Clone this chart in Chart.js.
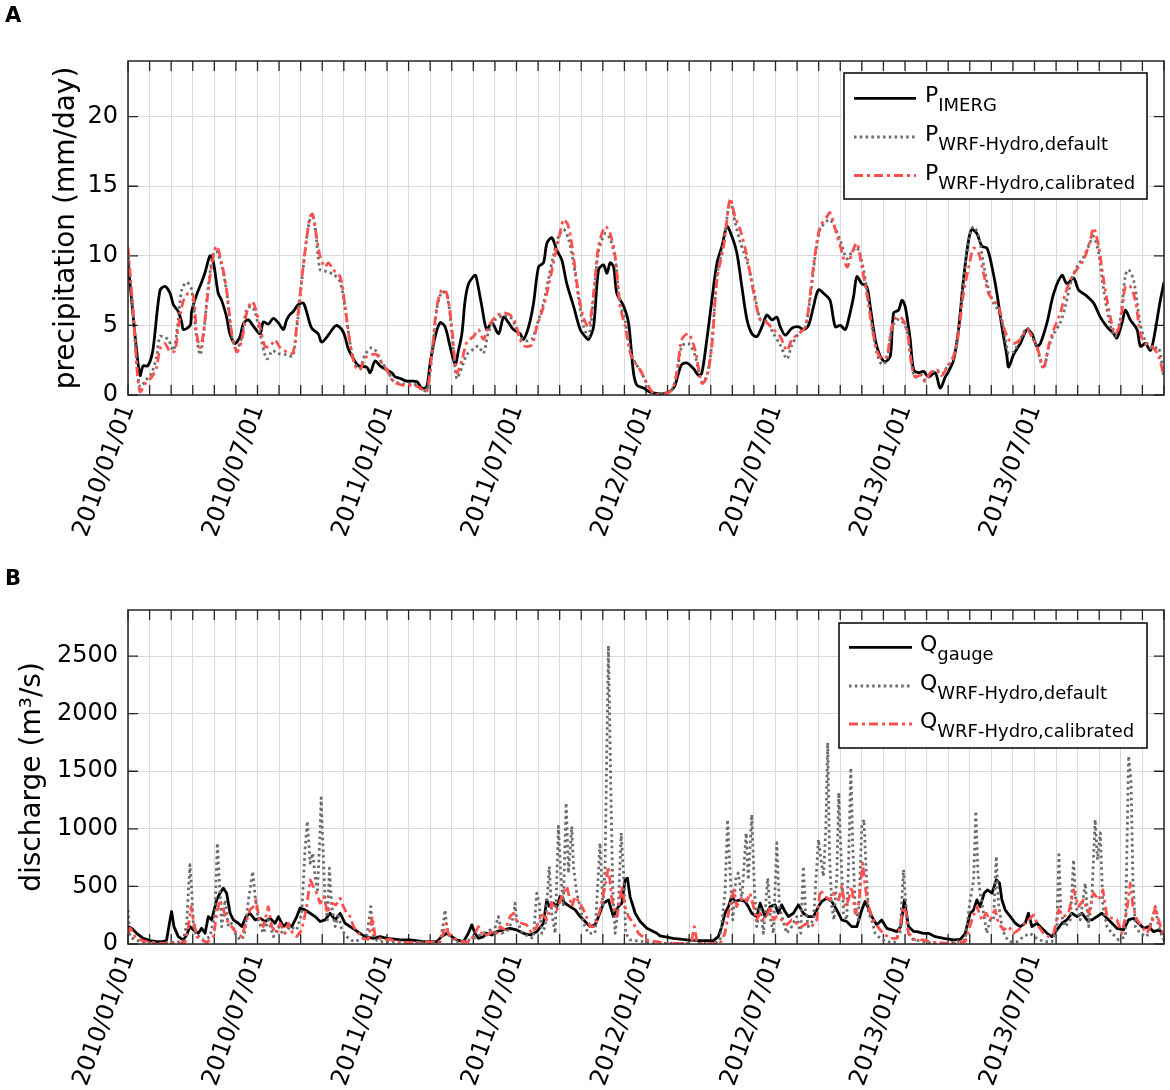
<!DOCTYPE html>
<html>
<head>
<meta charset="utf-8">
<script src="https://cdn.jsdelivr.net/npm/chart.js@4.4.1/dist/chart.umd.min.js"></script>
<style>
  html, body { margin: 0; padding: 0; background: #fff; }
  #page { position: relative; width: 1170px; height: 1090px; font-family: 'DejaVu Sans', sans-serif; }
  canvas { position: absolute; left: 0; }
  .tag { position: absolute; left: 5px; font-weight: bold; font-size: 21px; line-height: 1; z-index: 2; }
</style>
</head>
<body>
<div id="page">
  <canvas id="chartA" width="1170" height="550" style="top:0"></canvas>
  <canvas id="chartB" width="1170" height="540" style="top:550px"></canvas>
  <div class="tag" style="top:5px">A</div>
  <div class="tag" style="top:568px">B</div>
</div>
<script>
const FONT = "'DejaVu Sans', sans-serif";

// x axis is in months since 2010/01/01 (0..48)
const xLabelMonths = [0, 6, 12, 18, 24, 30, 36, 42];
const xLabels = ['2010/01/01', '2010/07/01', '2011/01/01', '2011/07/01', '2012/01/01', '2012/07/01', '2013/01/01', '2013/07/01'];
const yTicksA = [0, 5, 10, 15, 20];
const yTicksB = [0, 500, 1000, 1500, 2000, 2500];

// panel A: precipitation (mm/day), [month, value]
const pImerg = [[0,9.5],[0.17,6.8],[0.4,3.2],[0.56,1.4],[0.7,2.1],[0.92,2.1],[1.15,3.2],[1.48,7.5],[1.71,7.8],[1.95,7.3],[2.1,6.5],[2.33,6.0],[2.49,5.2],[2.57,4.7],[2.88,5.0],[2.95,6.0],[3.18,7.2],[3.41,8.1],[3.57,8.8],[3.8,10.0],[3.95,9.6],[4.18,7.3],[4.34,6.8],[4.57,5.6],[4.72,4.4],[4.96,3.7],[5.19,4.2],[5.34,5.1],[5.57,5.4],[5.88,4.8],[6.12,4.4],[6.27,5.25],[6.5,5.1],[6.73,5.5],[6.96,5.2],[7.2,4.7],[7.35,5.4],[7.51,5.8],[7.66,6.0],[7.89,6.5],[8.12,6.6],[8.27,6.0],[8.51,4.8],[8.81,4.4],[8.97,3.8],[9.28,4.3],[9.51,4.8],[9.67,5.0],[9.98,4.5],[10.21,3.3],[10.45,2.6],[10.68,2.1],[11.06,2.0],[11.22,1.6],[11.45,2.45],[11.68,2.1],[11.99,1.8],[12.22,1.6],[12.38,1.3],[12.6,1.2],[12.92,1.0],[13.38,0.96],[13.61,0.5],[13.84,0.6],[14.0,2.3],[14.23,4.2],[14.46,5.2],[14.69,4.9],[14.92,3.5],[15.16,2.2],[15.31,3.2],[15.47,4.4],[15.62,6.8],[15.78,8.0],[16.08,8.6],[16.16,8.3],[16.39,6.4],[16.62,4.7],[16.86,5.2],[17.17,4.4],[17.4,5.6],[17.63,5.2],[17.86,4.7],[18.17,4.4],[18.32,4.0],[18.56,4.9],[18.79,6.6],[19.02,9.2],[19.25,9.5],[19.41,10.9],[19.64,11.3],[19.87,10.4],[20.1,9.7],[20.33,8.0],[20.64,6.4],[20.95,4.7],[21.18,4.2],[21.34,4.0],[21.57,4.9],[21.8,9.0],[22.03,9.35],[22.19,8.75],[22.34,9.5],[22.5,9.2],[22.65,7.3],[22.96,6.4],[23.19,5.2],[23.42,1.6],[23.58,0.7],[23.89,0.5],[24.2,0.2],[24.81,0.1],[25.28,0.5],[25.51,1.6],[25.66,2.2],[25.9,2.3],[26.2,1.9],[26.44,1.4],[26.59,1.6],[26.82,4.0],[27.05,6.8],[27.29,9.5],[27.52,10.7],[27.75,12.1],[27.98,11.4],[28.21,10.2],[28.44,7.8],[28.68,5.4],[28.91,4.4],[29.14,4.2],[29.37,4.9],[29.6,5.75],[29.83,5.4],[30.06,5.6],[30.22,4.9],[30.45,4.3],[30.76,4.8],[31.07,4.9],[31.3,4.7],[31.53,5.0],[31.76,6.35],[31.99,7.55],[32.3,7.2],[32.53,6.8],[32.77,4.9],[33.0,5.0],[33.23,4.7],[33.38,5.4],[33.62,7.1],[33.77,8.5],[34.0,8.0],[34.23,7.8],[34.39,6.35],[34.62,4.0],[34.85,2.8],[35.08,2.4],[35.32,2.8],[35.47,5.9],[35.7,6.1],[35.86,6.8],[36.01,6.35],[36.24,4.0],[36.4,1.8],[36.63,1.6],[36.86,1.7],[37.09,1.3],[37.4,1.6],[37.63,0.5],[37.87,1.3],[38.02,1.7],[38.25,2.5],[38.48,4.7],[38.71,8.3],[38.95,11.15],[39.1,11.9],[39.33,11.6],[39.56,10.7],[39.8,10.55],[40.03,9.2],[40.26,7.3],[40.49,4.9],[40.72,2.8],[40.8,2.0],[41.03,2.9],[41.34,3.7],[41.65,4.7],[41.88,4.4],[42.11,3.5],[42.27,3.7],[42.58,5.2],[42.89,7.3],[43.27,8.6],[43.5,8.0],[43.81,8.4],[44.04,7.55],[44.35,7.2],[44.74,6.6],[45.05,5.6],[45.36,4.9],[45.67,4.4],[45.82,4.1],[46.06,5.2],[46.21,6.1],[46.44,5.4],[46.75,4.7],[46.91,3.5],[47.14,3.7],[47.37,3.2],[47.52,4.0],[47.83,6.8],[48.0,8.1]];

const pDefault = [[0,10.3],[0.26,5.5],[0.41,2.2],[0.56,0.6],[0.79,1.0],[1.1,1.6],[1.33,2.8],[1.48,4.2],[1.71,4.1],[1.87,4.0],[2.1,3.2],[2.3,5.0],[2.49,7.55],[2.72,8.1],[2.95,7.55],[3.15,4.5],[3.34,2.9],[3.49,4.2],[3.72,7.8],[3.95,10.2],[4.11,10.3],[4.34,9.3],[4.57,7.4],[4.81,4.2],[5.04,3.3],[5.27,4.2],[5.5,6.2],[5.73,6.35],[5.88,6.0],[6.12,4.4],[6.43,2.6],[6.7,3.2],[6.9,3.0],[7.35,2.9],[7.63,2.8],[7.81,4.7],[8.04,8.0],[8.27,11.2],[8.43,12.6],[8.55,12.8],[8.66,12.2],[8.9,9.0],[9.13,8.9],[9.28,8.8],[9.51,8.7],[9.83,8.1],[10.06,6.2],[10.29,3.7],[10.52,2.2],[10.75,1.9],[10.98,2.9],[11.29,3.4],[11.52,3.1],[11.76,2.3],[11.99,1.9],[12.3,1.0],[12.76,0.8],[13.23,0.8],[13.53,0.5],[13.84,0.3],[14.08,2.8],[14.31,6.2],[14.54,7.4],[14.77,7.2],[15.0,4.6],[15.23,1.2],[15.47,2.0],[15.7,2.9],[16.01,3.3],[16.24,3.5],[16.47,3.0],[16.7,4.5],[17.01,5.4],[17.4,5.7],[17.71,5.6],[17.94,5.0],[18.17,4.2],[18.4,3.9],[18.71,4.0],[18.94,5.0],[19.25,6.6],[19.48,8.3],[19.71,10.0],[19.95,11.4],[20.18,11.9],[20.41,11.2],[20.64,9.5],[20.87,7.0],[21.1,5.0],[21.34,4.2],[21.57,6.9],[21.8,10.3],[22.11,11.6],[22.34,11.2],[22.57,9.8],[22.8,6.6],[23.04,5.3],[23.27,3.2],[23.5,2.3],[23.73,1.8],[24.04,0.84],[24.35,0.12],[24.81,0.07],[25.2,0.4],[25.43,1.6],[25.66,3.5],[25.97,3.7],[26.28,2.8],[26.59,0.9],[26.82,1.4],[27.05,3.7],[27.29,8.6],[27.6,11.0],[27.9,13.9],[28.13,12.4],[28.36,11.0],[28.68,9.6],[28.99,7.6],[29.3,5.4],[29.6,5.3],[29.91,4.4],[30.22,3.6],[30.53,2.6],[30.76,3.6],[31.07,4.4],[31.38,4.9],[31.61,7.0],[31.84,10.0],[32.07,11.9],[32.38,12.5],[32.53,12.6],[32.77,12.0],[33.0,11.1],[33.31,9.8],[33.54,10.3],[33.77,10.6],[34.0,9.6],[34.23,7.6],[34.47,5.0],[34.7,3.0],[34.93,2.2],[35.16,2.5],[35.39,4.8],[35.62,5.4],[35.86,5.3],[36.09,4.6],[36.32,2.1],[36.47,1.3],[36.71,1.5],[36.94,1.1],[37.17,1.6],[37.48,1.7],[37.71,1.5],[37.94,2.0],[38.25,2.6],[38.48,4.7],[38.71,8.3],[38.95,11.2],[39.18,12.1],[39.41,11.4],[39.64,9.4],[39.87,7.6],[40.1,6.6],[40.34,6.0],[40.57,4.7],[40.8,3.0],[41.03,3.1],[41.34,4.0],[41.65,4.8],[41.88,4.2],[42.11,3.4],[42.42,1.9],[42.65,3.4],[42.89,4.4],[43.2,5.2],[43.43,6.4],[43.74,8.4],[44.04,9.4],[44.28,9.9],[44.59,11.0],[44.74,11.4],[44.97,10.2],[45.2,7.6],[45.51,5.0],[45.74,4.2],[45.98,5.5],[46.21,8.6],[46.36,9.0],[46.6,8.2],[46.91,5.0],[47.14,3.9],[47.44,3.3],[47.75,3.4],[47.98,1.4]];

const pCalibrated = [[0,10.6],[0.26,5.6],[0.41,2.0],[0.56,0.24],[0.79,0.8],[1.1,1.3],[1.33,2.0],[1.48,3.3],[1.71,3.7],[1.95,3.1],[2.18,3.2],[2.33,4.9],[2.57,6.8],[2.8,7.3],[3.03,7.1],[3.18,4.4],[3.34,3.4],[3.49,4.4],[3.72,7.55],[3.95,9.95],[4.11,10.7],[4.34,9.5],[4.57,7.55],[4.81,4.4],[5.04,3.1],[5.27,3.95],[5.5,5.9],[5.73,6.7],[5.88,6.35],[6.12,4.9],[6.35,3.5],[6.58,3.5],[6.81,3.95],[7.05,3.4],[7.35,3.1],[7.63,3.0],[7.81,4.9],[8.04,8.2],[8.27,11.15],[8.43,12.8],[8.55,13.0],[8.66,12.1],[8.9,9.95],[9.13,9.2],[9.28,9.5],[9.51,9.0],[9.83,8.5],[10.06,6.35],[10.29,3.7],[10.52,2.1],[10.75,1.8],[10.98,2.65],[11.29,2.9],[11.52,2.9],[11.76,2.3],[11.99,1.8],[12.3,0.96],[12.76,0.7],[13.23,0.7],[13.53,0.5],[13.84,0.24],[14.08,3.0],[14.31,6.35],[14.54,7.55],[14.77,7.3],[15.0,4.9],[15.23,1.6],[15.47,2.5],[15.7,3.8],[16.01,4.2],[16.24,4.7],[16.47,4.0],[16.7,4.9],[17.01,5.6],[17.4,5.9],[17.71,5.75],[17.94,5.2],[18.17,4.0],[18.4,3.5],[18.71,3.6],[18.94,4.9],[19.25,6.35],[19.48,7.8],[19.71,9.5],[19.95,11.15],[20.18,12.6],[20.41,12.1],[20.64,9.95],[20.87,7.3],[21.1,5.6],[21.34,4.9],[21.57,7.3],[21.8,10.7],[22.11,12.1],[22.34,11.6],[22.57,9.95],[22.8,6.35],[23.04,4.9],[23.27,3.0],[23.5,2.3],[23.73,1.8],[24.04,0.84],[24.35,0.12],[24.81,0.07],[25.2,0.36],[25.43,1.6],[25.66,4.0],[25.97,4.4],[26.28,3.2],[26.59,0.84],[26.82,1.3],[27.05,3.5],[27.29,8.3],[27.6,10.7],[27.9,14.1],[28.13,12.8],[28.36,11.9],[28.68,9.95],[28.99,7.3],[29.3,5.4],[29.6,5.2],[29.91,4.7],[30.22,4.2],[30.53,3.2],[30.76,4.0],[31.07,4.4],[31.38,4.9],[31.61,7.3],[31.84,10.2],[32.07,12.1],[32.38,12.8],[32.53,13.1],[32.77,11.9],[33.0,10.7],[33.31,9.2],[33.54,10.2],[33.77,10.9],[34.0,9.2],[34.23,7.3],[34.47,4.9],[34.7,3.2],[34.93,2.6],[35.16,2.8],[35.39,4.9],[35.62,5.6],[35.86,5.5],[36.09,4.7],[36.32,2.0],[36.47,1.3],[36.71,1.4],[36.94,0.96],[37.17,1.6],[37.48,1.8],[37.71,1.4],[37.94,2.0],[38.25,2.8],[38.48,4.4],[38.71,7.3],[38.95,9.2],[39.18,10.55],[39.41,10.2],[39.64,8.75],[39.87,7.3],[40.1,6.8],[40.34,6.35],[40.57,4.9],[40.8,4.0],[41.03,3.7],[41.34,4.0],[41.65,4.7],[41.88,4.2],[42.11,3.5],[42.42,2.0],[42.65,3.5],[42.89,4.7],[43.2,5.9],[43.43,7.3],[43.74,8.5],[44.04,9.2],[44.28,9.7],[44.59,11.15],[44.74,12.0],[44.97,10.7],[45.2,8.3],[45.51,5.6],[45.74,4.4],[45.98,5.2],[46.21,7.8],[46.44,7.8],[46.67,6.8],[46.91,4.4],[47.14,3.7],[47.44,3.5],[47.75,2.8],[47.98,1.4]];

// panel B: discharge (m3/s), [month, value]
const qGauge = [[0,151],[0.17,136],[0.4,93],[0.71,49],[1.02,29],[1.33,20],[1.64,20],[1.79,35],[1.92,180],[2.02,282],[2.13,151],[2.33,64],[2.56,35],[2.72,78],[2.87,151],[3.03,122],[3.26,93],[3.41,136],[3.57,93],[3.72,238],[3.88,209],[3.95,267],[4.11,383],[4.26,441],[4.42,485],[4.57,441],[4.73,267],[4.88,209],[5.11,180],[5.27,151],[5.47,238],[5.65,267],[5.89,209],[6.12,224],[6.35,195],[6.58,224],[6.81,180],[6.97,238],[7.2,151],[7.35,180],[7.59,151],[7.82,238],[7.97,311],[8.2,296],[8.44,267],[8.67,238],[8.9,195],[9.13,209],[9.36,267],[9.6,209],[9.83,267],[10.06,180],[10.29,151],[10.52,122],[10.75,93],[10.98,64],[11.37,49],[11.68,64],[11.99,49],[12.45,41],[12.6,35],[13.07,35],[13.69,20],[14.3,20],[14.53,64],[14.77,93],[15.0,64],[15.23,35],[15.54,20],[15.77,93],[15.93,166],[16.08,93],[16.23,49],[16.47,64],[16.62,93],[16.85,78],[17.08,107],[17.39,122],[17.7,136],[18.01,122],[18.32,93],[18.63,78],[18.94,107],[19.25,180],[19.4,383],[19.52,325],[19.71,354],[19.87,325],[20.02,412],[20.25,354],[20.48,325],[20.72,296],[20.95,238],[21.18,195],[21.41,151],[21.64,166],[21.8,238],[22.03,354],[22.26,383],[22.49,238],[22.72,325],[22.88,354],[23.03,558],[23.14,572],[23.26,412],[23.5,267],[23.73,195],[24.04,136],[24.5,93],[24.65,70],[25.27,49],[25.89,35],[26.5,29],[27.12,29],[27.35,64],[27.51,151],[27.66,267],[27.82,325],[27.97,412],[28.13,369],[28.36,383],[28.59,369],[28.74,325],[28.9,267],[29.13,238],[29.29,354],[29.52,238],[29.75,325],[29.98,340],[30.13,267],[30.29,340],[30.44,282],[30.6,238],[30.83,267],[31.06,340],[31.29,267],[31.52,238],[31.76,238],[31.99,325],[32.14,369],[32.38,398],[32.61,369],[32.84,296],[33.07,209],[33.3,195],[33.53,151],[33.77,151],[34.0,296],[34.15,369],[34.31,311],[34.46,238],[34.69,166],[34.92,209],[35.16,136],[35.39,122],[35.62,107],[35.8,150],[35.97,383],[36.16,151],[36.39,110],[36.55,107],[36.86,93],[37.09,93],[37.4,64],[37.79,49],[38.25,35],[38.56,41],[38.79,93],[39.02,267],[39.18,296],[39.33,383],[39.48,325],[39.67,441],[39.82,470],[40.03,441],[40.23,557],[40.38,528],[40.49,383],[40.64,296],[40.88,238],[41.11,180],[41.34,151],[41.57,180],[41.72,267],[41.88,151],[42.11,180],[42.34,136],[42.58,93],[42.81,64],[43.04,122],[43.27,180],[43.5,209],[43.73,267],[43.97,238],[44.2,267],[44.43,209],[44.66,209],[44.89,238],[45.12,267],[45.36,224],[45.59,180],[45.82,136],[46.13,122],[46.36,209],[46.59,224],[46.82,180],[47.06,136],[47.29,151],[47.52,107],[47.75,122],[48.0,93]];

const qDefault = [[0,296],[0.09,64],[0.32,35],[0.8,12],[1.6,6],[2.56,20],[2.72,180],[2.8,470],[2.87,688],[2.95,470],[3.03,151],[3.18,64],[3.3,64],[3.49,35],[3.8,64],[4.03,267],[4.14,877],[4.23,557],[4.34,151],[4.5,383],[4.65,151],[4.8,180],[4.96,93],[5.19,35],[5.38,64],[5.58,383],[5.78,630],[5.89,412],[6.04,209],[6.27,93],[6.5,209],[6.74,64],[6.97,151],[7.2,78],[7.51,151],[7.82,122],[8.05,267],[8.2,819],[8.31,1066],[8.44,703],[8.56,790],[8.67,587],[8.78,470],[8.87,848],[8.95,1269],[9.02,906],[9.13,383],[9.24,209],[9.33,659],[9.44,325],[9.6,151],[9.75,267],[9.9,122],[10.13,64],[10.45,20],[10.75,35],[11.06,64],[11.25,325],[11.37,64],[11.6,20],[12.14,20],[13.0,12],[14.46,20],[14.61,180],[14.69,296],[14.77,151],[14.92,49],[15.3,20],[15.85,35],[16.16,64],[16.78,122],[16.93,93],[17.16,238],[17.32,93],[17.62,122],[17.86,238],[17.93,354],[18.01,209],[18.24,107],[18.55,64],[18.78,49],[18.94,441],[19.06,354],[19.17,93],[19.33,151],[19.52,674],[19.63,267],[19.79,93],[19.94,1022],[20.05,616],[20.17,325],[20.3,1225],[20.41,616],[20.56,1022],[20.64,674],[20.79,441],[20.95,325],[21.1,180],[21.33,93],[21.64,93],[21.87,877],[22.0,325],[22.1,645],[22.26,2590],[22.37,1342],[22.46,470],[22.57,93],[22.72,325],[22.85,964],[22.96,616],[23.06,93],[23.26,35],[23.88,20],[24.4,6],[26.0,6],[26.24,60],[26.4,6],[27.2,6],[27.43,35],[27.66,441],[27.78,1080],[27.89,645],[28.02,209],[28.17,587],[28.28,616],[28.44,383],[28.64,964],[28.74,557],[28.9,1124],[29.02,500],[29.13,151],[29.29,325],[29.44,93],[29.64,572],[29.78,209],[29.9,93],[30.06,877],[30.18,325],[30.34,209],[30.52,93],[30.75,151],[30.98,238],[31.17,93],[31.29,674],[31.39,296],[31.52,151],[31.76,209],[31.99,906],[32.11,732],[32.22,587],[32.33,993],[32.42,1748],[32.5,790],[32.61,325],[32.71,209],[32.84,587],[32.93,1313],[33.02,848],[33.15,267],[33.3,209],[33.39,732],[33.49,1530],[33.58,848],[33.69,325],[33.84,209],[34.0,1022],[34.1,1080],[34.2,645],[34.31,267],[34.46,209],[34.62,93],[34.85,49],[35.16,20],[35.5,12],[35.77,93],[35.93,645],[36.0,441],[36.16,93],[36.39,35],[36.7,29],[37.0,12],[38.0,6],[38.79,35],[39.02,383],[39.18,557],[39.28,1153],[39.38,616],[39.48,441],[39.64,267],[39.79,93],[39.95,209],[40.1,209],[40.23,761],[40.33,354],[40.49,151],[40.64,64],[40.88,20],[41.2,20],[41.49,64],[41.8,93],[42.11,49],[42.42,20],[42.81,20],[43.04,151],[43.13,775],[43.22,267],[43.42,151],[43.66,209],[43.81,732],[43.92,325],[44.12,209],[44.35,528],[44.51,151],[44.66,412],[44.81,1080],[44.92,732],[45.05,964],[45.17,325],[45.36,151],[45.59,93],[45.9,35],[46.21,64],[46.36,1632],[46.47,1429],[46.56,557],[46.67,151],[46.9,93],[47.21,64],[47.44,209],[47.6,325],[47.75,151],[47.98,35]];

const qCalibrated = [[0,93],[0.12,136],[0.32,64],[0.56,35],[1.02,15],[1.48,6],[2.64,12],[2.8,151],[2.92,325],[3.03,209],[3.18,64],[3.41,35],[3.65,12],[3.96,64],[4.14,296],[4.26,383],[4.42,296],[4.57,209],[4.8,151],[5.04,93],[5.27,64],[5.5,209],[5.65,296],[5.81,325],[5.93,383],[6.09,209],[6.27,151],[6.5,325],[6.66,151],[6.89,93],[7.05,180],[7.28,93],[7.43,180],[7.59,107],[7.82,64],[8.05,122],[8.28,325],[8.44,557],[8.59,499],[8.74,441],[8.9,354],[9.08,412],[9.24,267],[9.44,354],[9.64,340],[9.83,397],[9.98,325],[10.13,267],[10.29,238],[10.45,151],[10.68,93],[10.91,49],[11.14,41],[11.32,238],[11.45,64],[11.84,35],[12.14,40],[12.4,20],[13.07,12],[14.46,20],[14.61,93],[14.74,180],[14.84,93],[15.08,49],[15.38,20],[15.85,20],[16.08,93],[16.23,151],[16.47,64],[16.78,93],[16.93,122],[17.08,93],[17.24,151],[17.47,122],[17.7,238],[17.86,267],[18.01,195],[18.24,180],[18.47,166],[18.71,93],[18.94,151],[19.17,267],[19.4,209],[19.63,354],[19.87,296],[20.1,412],[20.33,500],[20.56,325],[20.72,412],[20.95,354],[21.18,267],[21.41,151],[21.64,151],[21.87,296],[22.1,500],[22.26,674],[22.42,383],[22.65,238],[22.88,500],[23.03,325],[23.19,238],[23.42,180],[23.65,93],[24.04,35],[24.5,20],[24.9,6],[26.0,6],[26.12,35],[26.24,151],[26.35,35],[26.5,3],[27.43,6],[27.66,93],[27.82,267],[27.97,412],[28.08,470],[28.2,325],[28.36,383],[28.51,412],[28.67,369],[28.82,441],[28.98,325],[29.13,209],[29.29,267],[29.44,209],[29.59,238],[29.75,325],[29.9,209],[30.06,238],[30.29,209],[30.52,166],[30.75,209],[30.98,180],[31.22,151],[31.45,180],[31.68,151],[31.91,209],[32.07,470],[32.3,412],[32.53,383],[32.68,441],[32.92,383],[33.07,500],[33.23,325],[33.38,383],[33.53,500],[33.69,267],[33.84,325],[34.04,703],[34.15,500],[34.31,325],[34.46,238],[34.62,180],[34.85,122],[35.08,78],[35.31,49],[35.62,49],[35.77,151],[35.93,325],[36.05,267],[36.16,93],[36.47,35],[36.86,35],[37.3,12],[38.25,6],[38.79,20],[39.1,209],[39.33,325],[39.56,209],[39.76,267],[39.95,209],[40.18,296],[40.33,180],[40.57,122],[40.8,151],[41.03,93],[41.26,122],[41.49,166],[41.72,209],[41.96,253],[42.19,151],[42.42,93],[42.65,64],[42.89,93],[43.12,296],[43.35,238],[43.58,267],[43.81,470],[44.04,325],[44.27,383],[44.51,267],[44.74,441],[44.97,383],[45.17,470],[45.36,238],[45.59,224],[45.82,209],[46.05,93],[46.28,296],[46.44,528],[46.56,325],[46.75,209],[46.98,151],[47.21,93],[47.44,180],[47.6,325],[47.75,209],[47.98,64]];

const legendSubsA = ['IMERG', 'WRF-Hydro,default', 'WRF-Hydro,calibrated'];
const legendSubsB = ['gauge', 'WRF-Hydro,default', 'WRF-Hydro,calibrated'];

const COL_OBS = '#000000';
const COL_DEF = '#6b6b6b';
const COL_CAL = '#ff5050';
const GRID = '#dadada';
const AXIS = '#262626';

const monthTicks = [];
for (let m = 0; m <= 48; m++) monthTicks.push(m);

function series(pts, color, dash, order, tension) {
    return {
        data: pts.map(p => ({ x: p[0], y: p[1] })),
        borderColor: color,
        borderWidth: 2.8,
        borderDash: dash,
        borderCapStyle: 'butt',
        borderJoinStyle: 'round',
        pointRadius: 0,
        fill: false,
        tension: tension,
        order: order
    };
}

// inner tick marks on all four sides + box frame
const frame = {
    id: 'frame',
    beforeDatasetsDraw(chart) {
        const { ctx, chartArea: a, scales: { x, y } } = chart;
        ctx.save();
        ctx.strokeStyle = AXIS;
        ctx.lineWidth = 1.3;
        ctx.beginPath();
        x.ticks.forEach(t => {
            const px = x.getPixelForValue(t.value);
            ctx.moveTo(px, a.top); ctx.lineTo(px, a.top + 10);
            ctx.moveTo(px, a.bottom); ctx.lineTo(px, a.bottom - 10);
        });
        y.ticks.forEach(t => {
            const py = y.getPixelForValue(t.value);
            ctx.moveTo(a.left, py); ctx.lineTo(a.left + 10, py);
            ctx.moveTo(a.right, py); ctx.lineTo(a.right - 10, py);
        });
        ctx.stroke();
        ctx.restore();
    },
    afterDatasetsDraw(chart) {
        const { ctx, chartArea: a } = chart;
        ctx.save();
        ctx.strokeStyle = AXIS;
        ctx.lineWidth = 1.5;
        ctx.strokeRect(a.left, a.top, a.right - a.left, a.bottom - a.top);
        ctx.restore();
    }
};

// legend with subscripted labels
const subLegend = {
    id: 'subLegend',
    afterDraw(chart, args, o) {
        const ctx = chart.ctx;
        ctx.save();
        ctx.fillStyle = '#fff';
        ctx.fillRect(o.box[0], o.box[1], o.box[2], o.box[3]);
        ctx.strokeStyle = '#000';
        ctx.lineWidth = 1.5;
        ctx.strokeRect(o.box[0], o.box[1], o.box[2], o.box[3]);
        chart.data.datasets.forEach((ds, i) => {
            const ly = o.rowY[i];
            ctx.beginPath();
            ctx.strokeStyle = ds.borderColor;
            ctx.lineWidth = ds.borderWidth;
            ctx.setLineDash(ds.borderDash || []);
            ctx.moveTo(o.lineX[0], ly);
            ctx.lineTo(o.lineX[1], ly);
            ctx.stroke();
            ctx.setLineDash([]);
            ctx.fillStyle = '#000';
            ctx.textBaseline = 'alphabetic';
            ctx.textAlign = 'left';
            ctx.font = '22px ' + FONT;
            ctx.fillText(o.letter, o.textX, ly + 4);
            const w = ctx.measureText(o.letter).width;
            ctx.font = '18px ' + FONT;
            ctx.fillText(o.subs[i], o.textX + w, ly + 13);
        });
        ctx.restore();
    }
};

function xScale(axisHeight) {
    return {
        type: 'linear',
        min: 0,
        max: 48,
        afterBuildTicks: s => { s.ticks = monthTicks.map(v => ({ value: v })); },
        afterFit: s => { s.height = axisHeight; s.paddingLeft = 0; s.paddingRight = 0; },
        ticks: {
            autoSkip: false,
            minRotation: 70,
            maxRotation: 70,
            padding: 6,
            color: '#000',
            font: { family: FONT, size: 24 },
            callback: v => {
                const i = xLabelMonths.indexOf(v);
                return i >= 0 ? xLabels[i] : '';
            }
        },
        grid: { color: GRID, lineWidth: 1, drawTicks: false },
        border: { display: false }
    };
}

function yScale(max, ticks, title, titlePad) {
    return {
        type: 'linear',
        min: 0,
        max: max,
        afterBuildTicks: s => { s.ticks = ticks.map(v => ({ value: v })); },
        afterFit: s => { s.width = 128; s.paddingTop = 0; s.paddingBottom = 0; },
        ticks: {
            padding: 10,
            color: '#000',
            font: { family: FONT, size: 24 },
            callback: v => String(v)
        },
        grid: { color: GRID, lineWidth: 1, drawTicks: false },
        border: { display: false },
        title: {
            display: true,
            text: title,
            color: '#000',
            font: { family: FONT, size: 28 },
            padding: { top: titlePad, bottom: 0 }
        }
    };
}

function baseOptions(padTop, axisHeight, yMax, yTicks, title, titlePad, legendOpts) {
    return {
        responsive: false,
        animation: false,
        devicePixelRatio: 1,
        layout: { padding: { top: padTop, right: 6, left: 0, bottom: 0 } },
        scales: {
            x: xScale(axisHeight),
            y: yScale(yMax, yTicks, title, titlePad)
        },
        plugins: {
            legend: { display: false },
            tooltip: { enabled: false },
            subLegend: legendOpts
        }
    };
}

new Chart(document.getElementById('chartA'), {
    type: 'line',
    data: {
        datasets: [
            series(pImerg, COL_OBS, [], 2, 0.3),
            series(pDefault, COL_DEF, [2.5, 3.3], 1, 0.3),
            series(pCalibrated, COL_CAL, [9, 4, 3, 4], 0, 0.3)
        ]
    },
    options: baseOptions(61, 155, 24, yTicksA, 'precipitation (mm/day)', 50, {
        box: [844, 73, 303, 126],
        lineX: [854, 916],
        rowY: [98.3, 137, 175.5],
        textX: 925,
        letter: 'P',
        subs: legendSubsA
    }),
    plugins: [frame, subLegend]
});

new Chart(document.getElementById('chartB'), {
    type: 'line',
    data: {
        datasets: [
            series(qGauge, COL_OBS, [], 2, 0),
            series(qDefault, COL_DEF, [2.5, 3.3], 1, 0),
            series(qCalibrated, COL_CAL, [9, 4, 3, 4], 0, 0)
        ]
    },
    options: baseOptions(60, 146, 2900, yTicksB, 'discharge (m³/s)', 16, {
        box: [839, 73, 308, 125],
        lineX: [849, 912],
        rowY: [97.3, 136, 174],
        textX: 920,
        letter: 'Q',
        subs: legendSubsB
    }),
    plugins: [frame, subLegend]
});
</script>
</body>
</html>
